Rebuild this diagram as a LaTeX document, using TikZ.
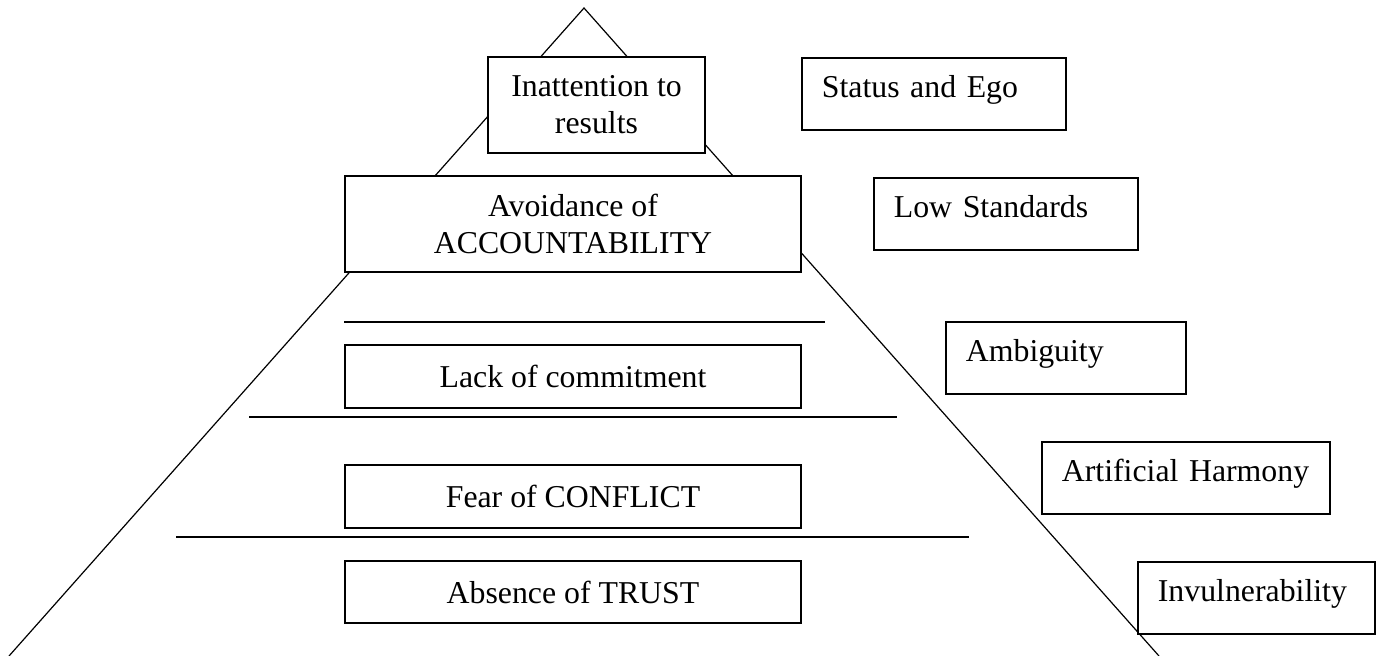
\documentclass[tikz,border=0pt]{standalone}
\usepackage{fontspec}
\setmainfont{Liberation Serif}
\begin{document}
\begin{tikzpicture}[x=0.5pt,y=-0.5pt]
        \tikzset{level/.style={draw,fill=white,line width=0.9pt,align=center,inner sep=0pt,minimum width=228pt,font=\fontsize{15.9}{18.5}\selectfont},
                 cause/.style={draw,fill=white,line width=0.9pt,align=left,anchor=north west,inner xsep=10pt,inner ysep=5pt,text height=15pt,text depth=11pt,font=\fontsize{15.9}{18.5}\selectfont}};
        \useasboundingbox (0,0) rectangle (1377,655);
        % pyramid outline
        \coordinate (apex) at (584,8);
        \coordinate (leftfoot) at (9,656);
        \coordinate (rightfoot) at (1159,656);
        \draw[line width=0.6pt] (leftfoot) -- (apex) -- (rightfoot);
        % separators
        \draw[line width=0.9pt] (344,322) -- (825,322);
        \draw[line width=0.9pt] (249,417) -- (897,417);
        \draw[line width=0.9pt] (176,537) -- (969,537);
        % levels
        \node[level,minimum width=108.5pt,minimum height=48pt] (results) at (596.5,105) {Inattention to\\results};
        \node[level,minimum height=48pt] (accountability) at (573,224) {Avoidance of\\ACCOUNTABILITY};
        \node[level,minimum height=31.5pt] (commitment) at (573,376.5) {Lack of commitment};
        \node[level,minimum height=31.5pt] (conflict) at (573,496.5) {Fear of CONFLICT};
        \node[level,minimum height=31pt] (trust) at (573,592) {Absence of TRUST};
        % causes
        \node[cause,text width=112pt] (status) at (801,57) {Status and Ego};
        \node[cause,text width=112pt] (standards) at (873,177) {Low Standards};
        \node[cause,text width=100pt] (ambiguity) at (945,321) {Ambiguity};
        \node[cause,text width=124pt] (harmony) at (1041,441) {Artificial Harmony};
        \node[cause,text width=98.5pt] (invulnerability) at (1137,561) {Invulnerability};
    \end{tikzpicture}
\end{document}
